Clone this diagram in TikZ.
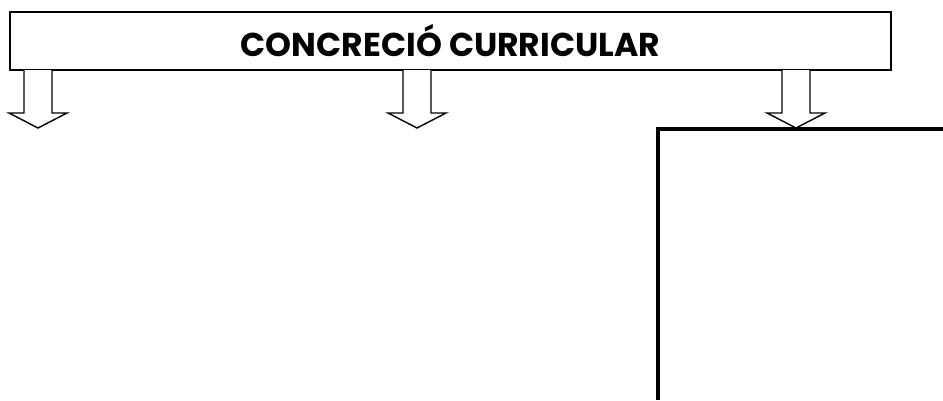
\documentclass[tikz,border=0pt]{standalone}
\usepackage{fontspec}
\setmainfont{Poppins}
\usepackage{tikz}
\usetikzlibrary{positioning}

\tikzset{
  banner/.style={draw,line width=1.4pt,minimum width=881pt,minimum height=58pt,inner sep=0pt,font=\fontsize{33}{35}\selectfont\bfseries},
  arrowline/.style={draw,line width=1.4pt,fill=white,line join=miter},
  pics/hollowdown/.style={code={
    \draw[arrowline] (-14,0) -- (-14,43) -- (-29,43) -- (0,58) -- (29,43) -- (14,43) -- (14,0);
  }}
}

\begin{document}
\begin{tikzpicture}[x=1pt,y=-1pt]
\useasboundingbox (0,0) rectangle (943,400);

\node[banner](cc) at (450.5,41){\raisebox{-3pt}{CONCRECIÓ CURRICULAR}};

\foreach \ax in {38,417,796}
  \pic at (\ax,70) {hollowdown};

% marc de la dreta
\coordinate (topright) at (943,129);
\coordinate (botleft) at (658,400);
\draw[line width=4pt] (topright) -| (botleft);
\end{tikzpicture}
\end{document}
